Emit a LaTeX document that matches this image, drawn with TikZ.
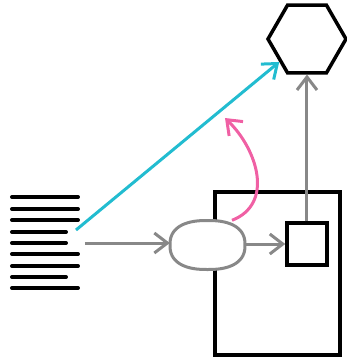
\documentclass[tikz,border=0pt]{standalone}
\usetikzlibrary{shapes.geometric,arrows.meta}
\definecolor{cy}{HTML}{22BCD0}
\definecolor{pk}{HTML}{F060A4}
\definecolor{gr}{HTML}{888888}
\begin{document}
\begin{tikzpicture}[x=1pt,y=-1pt,
  txtline/.style={line width=4pt,line cap=round},
  blackbox/.style={draw,line width=3.5pt,inner sep=0pt},
  tip/.style={-{Straight Barb[length=13pt,width=20pt,line width=3pt]}},
  conn/.style={line width=3pt,tip}]
\useasboundingbox (0,0) rectangle (347,360);
% text lines
\foreach \y/\e in {197/78,209/78,220/78,232/66,243/66,254/78,266/78,277/66,288/78}
  \draw[txtline] (12,\y) -- (\e,\y);
\coordinate (docA) at (76,230);
\coordinate (docB) at (85,243);
\node[blackbox,regular polygon,regular polygon sides=6,minimum size=78pt] (hex) at (307,39) {};
\node[blackbox,rectangle,minimum width=125pt,minimum height=163pt] (big) at (277.5,273.5) {};
\node[blackbox,rectangle,minimum width=40pt,minimum height=42pt] (sq) at (307,244) {};
\node[rectangle,inner sep=0pt,minimum width=75pt,minimum height=49pt] (ell) at (207.5,245) {};
\draw[gr,fill=white,line width=3pt,shift={(ell.center)}]
  plot[domain=2.5:357.5,samples=72,smooth]
  ({37.5*(cos(\x)<0?-1:1)*abs(cos(\x))^(0.82)},{24.5*(sin(\x)<0?-1:1)*abs(sin(\x))^(0.82)}) -- cycle;
\coordinate (pkend) at (225,118);
\draw[conn,gr] (docB) -- (docB -| ell.west);
\draw[conn,gr] (ell.east |- sq.west) -- (sq.west);
\draw[conn,gr] (sq.north) -- (hex.south);
\draw[conn,cy] (docA) -- (hex);
\draw[conn,pk] (ell.north -| 232,0) .. controls (274,204) and (258,150) .. (pkend);
\end{tikzpicture}
\end{document}
